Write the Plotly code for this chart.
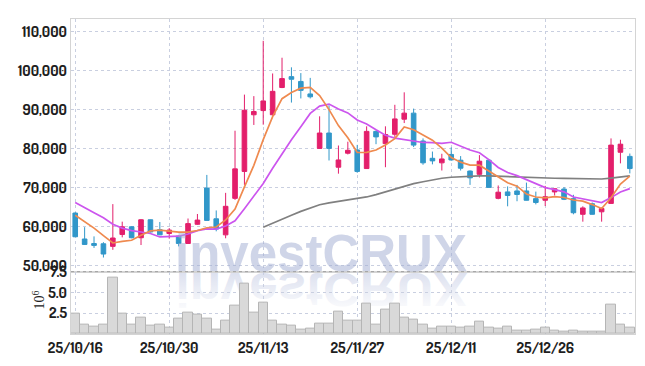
import urllib.parse
import plotly.graph_objects as go
from plotly.subplots import make_subplots

# ---------------- data ----------------
dates = ["25/10/16", "25/10/17", "25/10/20", "25/10/21", "25/10/22", "25/10/23", "25/10/24",
         "25/10/27", "25/10/28", "25/10/29", "25/10/30", "25/10/31",
         "25/11/03", "25/11/04", "25/11/05", "25/11/06", "25/11/07", "25/11/10", "25/11/11",
         "25/11/12", "25/11/13", "25/11/14", "25/11/17", "25/11/18", "25/11/19", "25/11/20",
         "25/11/21", "25/11/24", "25/11/25", "25/11/26", "25/11/27", "25/11/28",
         "25/12/01", "25/12/02", "25/12/03", "25/12/04", "25/12/05", "25/12/08", "25/12/09",
         "25/12/10", "25/12/11", "25/12/12", "25/12/15", "25/12/16", "25/12/17", "25/12/18",
         "25/12/19", "25/12/22", "25/12/23", "25/12/24", "25/12/26", "25/12/29", "25/12/30",
         "26/01/02", "26/01/05", "26/01/06", "26/01/07", "26/01/08", "26/01/09", "26/01/12"]

open_ = [63470, 56820, 55660, 55590, 54930, 57980, 59950, 57140, 61750, 59210,
         58230, 57560, 55670, 60590, 69880, 62000, 57880, 67240, 74140, 88670,
         89750, 88670, 95660, 98450, 97220, 94010, 80050, 83990, 75220, 78820,
         79650, 74880, 84410, 81280, 83670, 87540, 89090, 81950, 77510, 76350,
         78500, 77020, 74240, 73400, 77020, 67240, 68890, 69140, 69140, 67170,
         66750, 68890, 69630, 67170, 63150, 65860, 63790, 65940, 79060, 78000]
high = [63700, 59850, 57490, 56000, 65760, 61260, 60100, 61900, 61800, 61180,
        59610, 57700, 62070, 63230, 73250, 64140, 68650, 84580, 93840, 93450,
        107630, 99260, 103300, 100840, 99360, 98130, 88280, 91060, 80790, 81770,
        80960, 85710, 84600, 85710, 91230, 94430, 90250, 82610, 79240, 78670,
        80300, 78080, 74400, 78320, 77300, 70540, 70300, 70690, 71280, 68970,
        70440, 69800, 70120, 68150, 65200, 66180, 64880, 82610, 82270, 78740]
low = [57300, 55300, 54530, 52070, 54040, 57240, 57000, 55270, 58500, 57800,
       56900, 54930, 55600, 60440, 61500, 58790, 57000, 66850, 70690, 86060,
       86130, 88500, 95500, 91800, 92860, 92860, 79900, 76950, 73570, 78500,
       73800, 74800, 81130, 75220, 83000, 86550, 80390, 75860, 75960, 74380,
       76900, 74380, 70690, 72590, 70000, 67000, 65200, 66500, 66700, 65690,
       65270, 67980, 66800, 63150, 61260, 63100, 61260, 65900, 76210, 73640]
close = [57390, 55420, 55170, 52960, 57070, 59950, 57140, 61750, 58620, 57880,
         59110, 55670, 60760, 61670, 61580, 59360, 65200, 74800, 89830, 89510,
         92220, 94680, 97950, 97780, 94930, 93280, 83990, 80050, 77090, 79560,
         74140, 84410, 83000, 83600, 87610, 89090, 80890, 76350, 76850, 77340,
         77090, 74970, 72510, 76770, 70050, 68820, 67980, 68230, 66750, 66180,
         67660, 69700, 67000, 63550, 64780, 63150, 64630, 80890, 81130, 74880]

ma_orange = [62900, 61300, 59600, 57700, 55800, 56200, 56500, 57800, 58900, 59100,
             58900, 58600, 58600, 59000, 59700, 59900, 61700, 64500, 70200, 75700,
             82300, 88200, 92800, 94400, 95500, 95700, 93600, 90000, 85900, 82800,
             79000, 79050, 79640, 80940, 82550, 85540, 84840, 83510, 82160, 80100,
             77700, 76520, 75750, 75740, 74280, 72620, 71230, 70370, 68370, 67590,
             67360, 67700, 67460, 66820, 66540, 65640, 64620, 67400, 70920, 72940]
ma_purple = [66180, 64950, 63550, 62240, 60590, 59610, 58970, 58620, 58230, 57340,
             57510, 57530, 58090, 58960, 59410, 59350, 60160, 61470, 64590, 67750,
             71060, 74960, 78680, 82290, 85630, 89020, 90900, 91420, 90150, 89150,
             87350, 86320, 84820, 83410, 82670, 82250, 81940, 81570, 81550, 81330,
             81620, 80680, 79630, 78950, 77190, 75160, 73870, 73060, 72050, 70940,
             69990, 69470, 68910, 67590, 67070, 66500, 66160, 67430, 68870, 69740]
ma_gray = [None] * 20 + [
             59850, 60800, 61850, 62900, 63900, 64800, 65600, 66100, 66500, 66850,
             67200, 67600, 68200, 68900, 69700, 70400, 71000, 71500, 72000, 72400,
             72650, 72800, 72900, 73000, 73000, 72900, 72800, 72700, 72550, 72500,
             72450, 72400, 72350, 72300, 72250, 72200, 72200, 72450, 72700, 73000]

volume_mn = [2.48, 1.18, 0.84, 1.18, 6.80, 2.48, 1.18, 1.98, 0.95, 1.18,
             0.76, 1.79, 2.59, 2.36, 1.79, 0.53, 1.64, 3.36, 6.11, 2.59,
             3.74, 1.56, 1.18, 0.95, 0.53, 0.64, 1.30, 1.30, 2.71, 1.56,
             1.56, 3.70, 1.18, 2.97, 3.70, 2.02, 1.75, 1.18, 0.64, 0.84,
             0.84, 0.76, 0.84, 1.53, 0.76, 0.64, 0.84, 0.41, 0.41, 0.53,
             0.72, 0.41, 0.26, 0.41, 0.26, 0.26, 0.26, 3.59, 1.18, 0.76]

tick_dates = ["25/10/16", "25/10/30", "25/11/13", "25/11/27", "25/12/11", "25/12/26"]
price_ticks = [50000, 60000, 70000, 80000, 90000, 100000, 110000]
vol_ticks = [2.5, 5.0, 7.5]
vol_tick_text = ["2.5", "5.0", "7.5"]
vol_unit = "10<sup>6</sup>"
watermark = "investCRUX"

# ---------------- style ----------------
RED = "#e31f6b"
BLUE = "#3197c9"
ORANGE = "#ef8a4f"
PURPLE = "#cc55ee"
GRAY = "#808080"
GRID = "#c9cfe0"
FRAME = "#d4d4d4"
TICKFONT = dict(family="Dosis, 'Roboto Condensed', 'Liberation Sans Narrow', 'Arial Narrow', 'Liberation Sans', sans-serif",
                size=15, color="#1e1e1e", weight=700)
PANE_SPLIT = 0.198

fig = make_subplots(rows=2, cols=1, shared_xaxes=True, vertical_spacing=0)

for vals, col in [(ma_gray, GRAY), (ma_purple, PURPLE), (ma_orange, ORANGE)]:
    fig.add_trace(go.Scatter(x=dates, y=vals, mode="lines", line=dict(color=col, width=1.7),
                             showlegend=False, hoverinfo="skip"), row=1, col=1)

fig.add_trace(go.Candlestick(
    x=dates, open=open_, high=high, low=low, close=close,
    increasing=dict(line=dict(color=RED, width=1), fillcolor=RED),
    decreasing=dict(line=dict(color=BLUE, width=1), fillcolor=BLUE),
    whiskerwidth=0, showlegend=False), row=1, col=1)

fig.add_trace(go.Bar(x=dates, y=volume_mn, marker=dict(color="#d9d9d9", line=dict(color="#b5b5b5", width=1)),
                     showlegend=False), row=2, col=1)

xcommon = dict(type="category", range=[-0.45, 59.55], tickmode="array", tickvals=tick_dates,
               showgrid=True, gridcolor=GRID, griddash="dot", gridwidth=1,
               showline=True, linecolor=FRAME, mirror=True, ticks="", zeroline=False)

fig.update_layout(
    width=645, height=366,
    margin=dict(l=71, r=10, t=9, b=29),
    paper_bgcolor="white", plot_bgcolor="rgba(0,0,0,0)",
    bargap=0,
    showlegend=False,
    xaxis=dict(**xcommon, showticklabels=False, rangeslider=dict(visible=False)),
    xaxis2=dict(**xcommon, showticklabels=True, ticktext=tick_dates, tickfont=TICKFONT),
    yaxis=dict(domain=[PANE_SPLIT, 1], range=[48450, 113230], tickmode="array", tickvals=price_ticks,
               tickformat=",d", tickfont=TICKFONT, showgrid=True, gridcolor=GRID, griddash="dot",
               showline=True, linecolor=FRAME, mirror=True, ticks="", zeroline=False),
    yaxis2=dict(domain=[0, PANE_SPLIT], range=[0, 7.5], tickmode="array", tickvals=vol_ticks,
                ticktext=vol_tick_text, tickfont=TICKFONT, showgrid=True, gridcolor=GRID,
                griddash="dot", showline=True, linecolor=FRAME, mirror=True, ticks="",
                zeroline=False),
)

# divider between price and volume panes
fig.add_shape(type="line", xref="paper", yref="paper", x0=0, x1=1, y0=PANE_SPLIT, y1=PANE_SPLIT,
              line=dict(color="#a0a0a0", width=1, dash="dot"))

# volume unit label
fig.add_annotation(text=vol_unit, xref="paper", yref="paper", x=(39 - 71) / 564, y=(337 - 302) / 328,
                   xanchor="center", yanchor="middle", textangle=-90, showarrow=False,
                   font=dict(family="Liberation Serif, DejaVu Serif, serif", size=14, color="#222222"))

# watermark text
WM_SIZE = 51
fig.add_annotation(text="<b>%s</b>" % watermark, xref="paper", yref="paper",
                   x=0.444, y=0.256, xanchor="center", yanchor="middle", showarrow=False,
                   font=dict(family="Liberation Sans, Arial, sans-serif", size=WM_SIZE,
                             color="rgba(160,172,210,0.5)"))

# mirrored reflection of the watermark
svg = (
    '<svg xmlns="http://www.w3.org/2000/svg" width="300" height="40" viewBox="0 0 300 40" '
    'preserveAspectRatio="none">'
    '<defs><linearGradient id="g" x1="0" y1="0" x2="0" y2="1">'
    '<stop offset="0" stop-color="white" stop-opacity="0.15"/>'
    '<stop offset="1" stop-color="white" stop-opacity="0.9"/></linearGradient></defs>'
    '<g transform="scale(1,-1)"><text x="143.5" y="-1" text-anchor="middle" '
    'font-family="Liberation Sans, Arial, sans-serif" font-weight="bold" font-size="%d" '
    'fill="rgb(214,219,236)">%s</text></g>'
    '<rect x="0" y="0" width="300" height="40" fill="url(#g)"/>'
    '</svg>' % (WM_SIZE, watermark)
)
fig.add_layout_image(dict(source="data:image/svg+xml;charset=utf-8," + urllib.parse.quote(svg),
                          xref="paper", yref="paper", x=(178 - 71) / 564, y=(337 - 272) / 328,
                          sizex=300 / 564, sizey=40 / 328, xanchor="left", yanchor="top",
                          sizing="stretch", layer="below"))

fig.write_html("out.html")
